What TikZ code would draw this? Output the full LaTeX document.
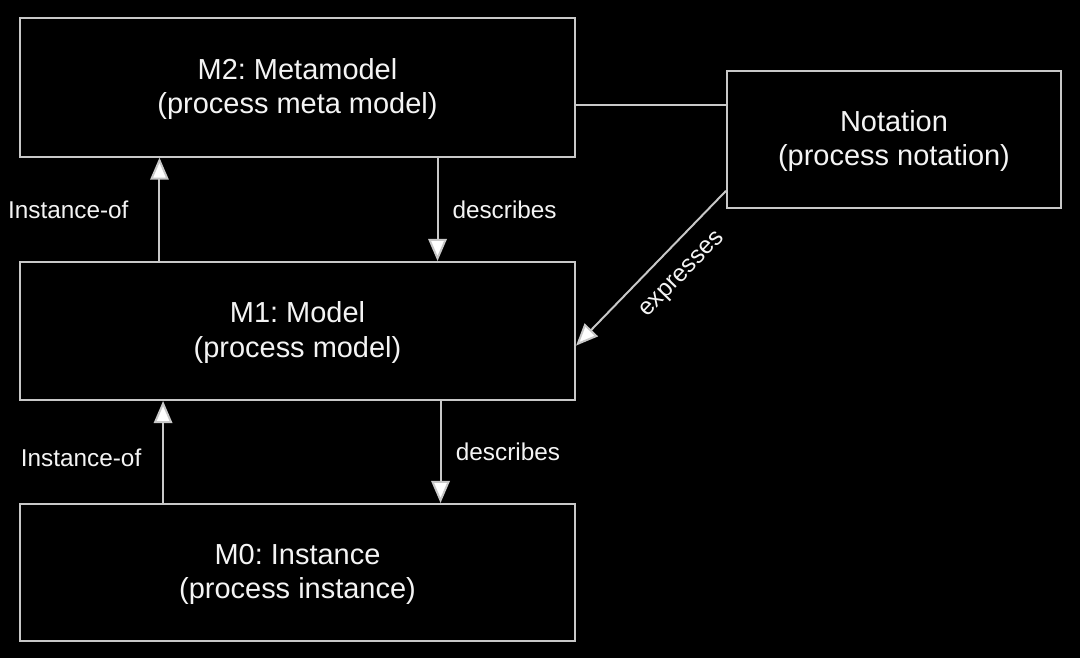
\documentclass[tikz,border=0pt]{standalone}
\usepackage{fontspec}
\setmainfont{Liberation Sans}
\usepackage{tikz}
\usetikzlibrary{arrows.meta,positioning}
\definecolor{bg}{HTML}{000000}
\definecolor{ln}{HTML}{C8C8C8}
\definecolor{tx}{HTML}{F4F4F4}
\frenchspacing

\begin{document}
\begin{tikzpicture}[x=0.025cm,y=-0.025cm,
    level/.style={draw=ln,line width=1.4pt,text=tx,align=center,
        font=\fontsize{20.6}{24.6}\selectfont,
        minimum width=13.875cm,minimum height=3.45cm,inner sep=0},
    rel/.style={draw=ln,line width=1.4pt,
        -{Triangle[width=0.46cm,length=0.55cm,fill=white]}},
    lab/.style={text=tx,font=\fontsize{17.3}{20}\selectfont,inner sep=0}]
    \fill[bg] (0,0) rectangle (1080,658);
    \useasboundingbox (0,0) rectangle (1080,658);

    % levels
    \node[level,minimum height=3.46cm] (m2) at (297.5,87.5)
        {\strut M2: Metamodel\\(process meta model)};
    \node[level] (m1) at (297.5,331) {\strut M1: Model\\(process model)};
    \node[level,minimum height=3.425cm] (m0) at (297.5,572.5)
        {\strut M0: Instance\\(process instance)};
    \node[level,minimum width=8.35cm,minimum height=3.425cm] (note)
        at (894,139.5) {\strut Notation\\(process notation)};

    % links
    \draw[rel] ([xshift=-3.45cm]m1.north) --
        node[lab,left=0.75cm] {Instance-of} ([xshift=-3.45cm]m2.south);
    \draw[rel] ([xshift=3.5cm]m2.south) --
        node[lab,right=0.35cm] {describes} ([xshift=3.5cm]m1.north);
    \draw[rel] ([xshift=-3.36cm]m0.north) --
        node[lab,left=0.52cm,pos=0.44] {Instance-of} ([xshift=-3.36cm]m1.south);
    \draw[rel] ([xshift=3.575cm]m1.south) --
        node[lab,right=0.36cm] {describes} ([xshift=3.575cm]m0.north);
    \draw[draw=ln,line width=1.4pt] ([yshift=-0.4375cm]m2.east) coordinate (mn)
        -- (mn -| note.west);
    \draw[rel,{Triangle[width=0.46cm,length=0.55cm,fill=white]}-] (m1.-3.3) --
        node[lab,sloped,below=0.45cm,pos=0.58] {expresses} (note.197);
\end{tikzpicture}
\end{document}
